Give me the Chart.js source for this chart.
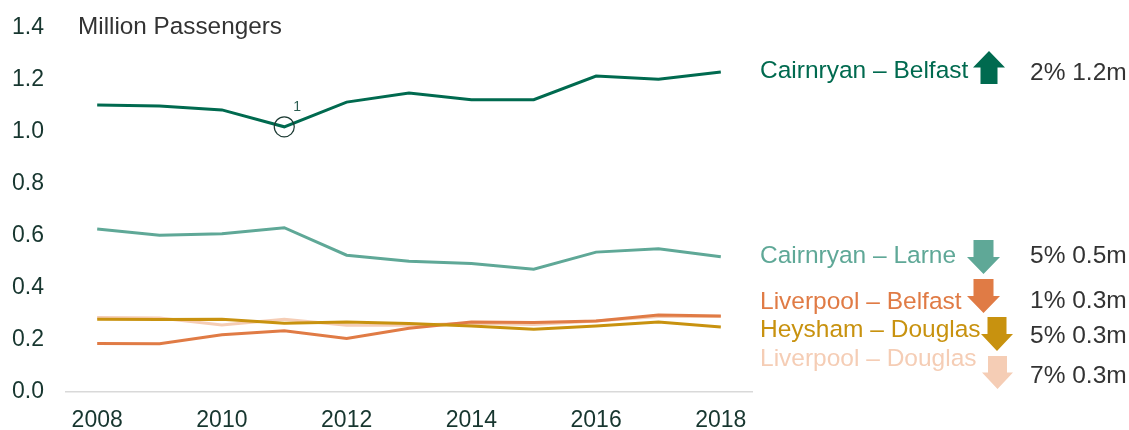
<!DOCTYPE html>
<html>
<head>
<meta charset="utf-8">
<script src="https://cdn.jsdelivr.net/npm/chart.js@4/dist/chart.umd.min.js"></script>
<style>
  html, body { margin: 0; padding: 0; background: #ffffff; }
  #wrap { width: 1129px; height: 430px; position: relative; }
</style>
</head>
<body>
<div id="wrap"><canvas id="c" width="1129" height="430"></canvas></div>
<script>
// ---- data ----
const years = ['2008','2009','2010','2011','2012','2013','2014','2015','2016','2017','2018'];
const cairnryanBelfast = [1.104, 1.100, 1.085, 1.020, 1.115, 1.150, 1.124, 1.124, 1.215, 1.203, 1.231];
const cairnryanLarne   = [0.627, 0.603, 0.609, 0.632, 0.526, 0.503, 0.494, 0.472, 0.538, 0.551, 0.520];
const liverpoolBelfast = [0.187, 0.186, 0.220, 0.236, 0.206, 0.245, 0.269, 0.267, 0.273, 0.296, 0.292];
const heyshamDouglas   = [0.280, 0.279, 0.280, 0.264, 0.269, 0.263, 0.254, 0.241, 0.254, 0.269, 0.250];
const liverpoolDouglas = [0.287, 0.285, 0.258, 0.280, 0.257, 0.257, 0.264, 0.260, 0.273, 0.290, 0.290];
const yTicks = [0.0, 0.2, 0.4, 0.6, 0.8, 1.0, 1.2, 1.4];
const routeNames = ['Cairnryan – Belfast', 'Cairnryan – Larne', 'Liverpool – Belfast', 'Heysham – Douglas', 'Liverpool – Douglas'];
const routeChange = ['2%', '5%', '1%', '5%', '7%'];
const routeTotal  = ['1.2m', '0.5m', '0.3m', '0.3m', '0.3m'];
const routeDir    = ['up', 'down', 'down', 'down', 'down'];
const noteIndex = 3;      // 2011 marker on Cairnryan – Belfast
const noteText = '1';
const axisTitle = 'Million Passengers';

// ---- styles ----
const colors = ['#006a4f', '#5fa897', '#e07b45', '#c8920f', '#f5cdb5'];
const FONT = 'Arial, "Liberation Sans", sans-serif';
const TICK_COLOR = '#17362f';

const cbRadius = years.map((_, i) => i === noteIndex ? 10 : 0);

const seriesValues = [cairnryanBelfast, cairnryanLarne, liverpoolBelfast, heyshamDouglas, liverpoolDouglas];
const drawOrder = [0, 1, 3, 2, 4];
const datasets = drawOrder.map(i => ({
  label: routeNames[i],
  data: seriesValues[i],
  borderColor: colors[i],
  backgroundColor: colors[i],
  borderWidth: 3,
  tension: 0,
  fill: false,
  pointRadius: i === 0 ? cbRadius : 0,
  pointHoverRadius: 0,
  pointBorderColor: '#1d3b34',
  pointBackgroundColor: 'rgba(0,0,0,0)',
  pointBorderWidth: 1.2,
  pointStyle: 'circle'
}));

// layout positions of side legend (label rows)
const legendRows = [
  { nameY: 78,  valY: 80,  arrow: { cx: 989,   top: 51,  bottom: 84,  w: 32, shaft: 17 } },
  { nameY: 263, valY: 263, arrow: { cx: 983.5, top: 240, bottom: 274, w: 33, shaft: 20 } },
  { nameY: 309, valY: 308, arrow: { cx: 983.5, top: 279, bottom: 313, w: 33, shaft: 20 } },
  { nameY: 337, valY: 343, arrow: { cx: 997,   top: 317, bottom: 351, w: 32, shaft: 19 } },
  { nameY: 366, valY: 383, arrow: { cx: 997.5, top: 356, bottom: 389, w: 31, shaft: 19 } }
];

function drawArrow(ctx, a, dir, color) {
  const hw = a.w / 2, sw = a.shaft / 2;
  const total = a.bottom - a.top;
  const headH = total * 0.5;
  ctx.save();
  ctx.fillStyle = color;
  ctx.beginPath();
  if (dir === 'up') {
    ctx.moveTo(a.cx, a.top);
    ctx.lineTo(a.cx + hw, a.top + headH);
    ctx.lineTo(a.cx + sw, a.top + headH);
    ctx.lineTo(a.cx + sw, a.bottom);
    ctx.lineTo(a.cx - sw, a.bottom);
    ctx.lineTo(a.cx - sw, a.top + headH);
    ctx.lineTo(a.cx - hw, a.top + headH);
  } else {
    ctx.moveTo(a.cx, a.bottom);
    ctx.lineTo(a.cx + hw, a.bottom - headH);
    ctx.lineTo(a.cx + sw, a.bottom - headH);
    ctx.lineTo(a.cx + sw, a.top);
    ctx.lineTo(a.cx - sw, a.top);
    ctx.lineTo(a.cx - sw, a.bottom - headH);
    ctx.lineTo(a.cx - hw, a.bottom - headH);
  }
  ctx.closePath();
  ctx.fill();
  ctx.restore();
}

const decorations = {
  id: 'decorations',
  afterDraw(chart) {
    const ctx = chart.ctx;
    const xs = chart.scales.x, ys = chart.scales.y;
    ctx.save();
    // axis title
    ctx.font = '24.3px ' + FONT;
    ctx.fillStyle = '#333333';
    ctx.textAlign = 'left';
    ctx.textBaseline = 'alphabetic';
    ctx.fillText(axisTitle, 78, 34);
    // note number
    const px = xs.getPixelForValue(noteIndex);
    const py = ys.getPixelForValue(cairnryanBelfast[noteIndex]);
    ctx.font = '14px ' + FONT;
    ctx.fillStyle = '#2c5e52';
    ctx.fillText(noteText, px + 9, py - 16);
    // side legend
    routeNames.forEach((name, i) => {
      const row = legendRows[i];
      ctx.font = '24.5px ' + FONT;
      ctx.fillStyle = colors[i];
      ctx.textAlign = 'left';
      ctx.fillText(name, 760, row.nameY);
      drawArrow(ctx, row.arrow, routeDir[i], colors[i]);
      ctx.fillStyle = '#333333';
      ctx.fillText(routeChange[i] + ' ' + routeTotal[i], 1030, row.valY);
    });
    ctx.restore();
  }
};

new Chart(document.getElementById('c'), {
  type: 'line',
  data: { labels: years, datasets: datasets },
  plugins: [decorations],
  options: {
    responsive: false,
    devicePixelRatio: 1,
    animation: false,
    events: [],
    layout: { padding: { top: 28, right: 377, bottom: 0, left: 0 } },
    plugins: { legend: { display: false }, tooltip: { enabled: false }, title: { display: false } },
    scales: {
      x: {
        type: 'category',
        offset: true,
        grid: { display: false, drawTicks: false },
        border: { display: true, color: '#d9d9d9', width: 1.5 },
        ticks: {
          autoSkip: false,
          maxRotation: 0,
          padding: 15,
          color: TICK_COLOR,
          font: { family: FONT, size: 23 },
          callback: function (v, i) { return i % 2 === 0 ? years[i] : ''; }
        },
        afterFit: s => { s.height = 38; s.paddingLeft = 0; s.paddingRight = 0; }
      },
      y: {
        min: 0,
        max: 1.4,
        grid: { display: false, drawTicks: false },
        border: { display: false },
        afterBuildTicks: s => { s.ticks = yTicks.map(v => ({ value: v })); },
        ticks: {
          padding: 22,
          color: TICK_COLOR,
          font: { family: FONT, size: 23 },
          callback: v => Number(v).toFixed(1)
        },
        afterFit: s => { s.width = 66; s.paddingTop = 0; s.paddingBottom = 0; }
      }
    }
  }
});
</script>
</body>
</html>
